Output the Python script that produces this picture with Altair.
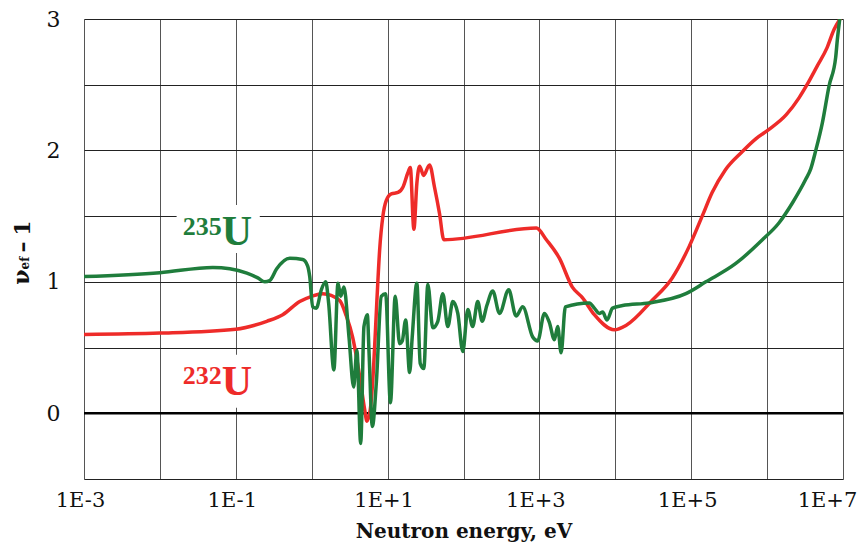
import altair as alt
import pandas as pd

# ---- data ----
u232_energy = [0.001, 0.01, 0.1, 0.256, 0.415, 0.695, 1.0, 1.40, 2.33, 2.86, 3.46, 4.29,
               4.98, 5.35, 5.92, 6.55, 7.23, 7.85, 8.67, 9.62, 11.2, 13.7, 15.9, 18.5,
               19.9, 22.2, 24.3, 26.4, 29.8, 35.7, 41.5, 48.3, 55.1, 914, 1236, 1832,
               2716, 3681, 5297, 9705, 13960, 30690, 56230, 94190, 139600, 188800,
               279900, 468800, 716100, 1.06e6, 1.778e6, 2.636e6, 3.357e6, 4.55e6,
               6.152e6, 7.621e6, 9.14e6]
u232_value = [0.60, 0.61, 0.64, 0.70, 0.75, 0.85, 0.89, 0.91, 0.86, 0.74, 0.58, 0.28,
              0.03, -0.06, 0.03, 0.36, 0.86, 1.24, 1.50, 1.62, 1.67, 1.68, 1.72, 1.83,
              1.87, 1.40, 1.75, 1.88, 1.81, 1.89, 1.72, 1.52, 1.32, 1.41, 1.32, 1.18,
              0.96, 0.88, 0.75, 0.635, 0.67, 0.86, 1.03, 1.27, 1.50, 1.68,
              1.85, 1.99, 2.09, 2.16, 2.27, 2.40, 2.50, 2.64,
              2.78, 2.92, 3.00]

u235_energy = [0.001, 0.01, 0.0498, 0.0834, 0.140, 0.195, 0.241, 0.280, 0.346, 0.514,
               0.762, 0.885, 0.942, 1.03, 1.15, 1.34, 1.53, 1.67, 1.96, 2.22, 2.41,
               2.66, 3.10, 3.57, 3.94, 4.42, 4.88, 5.41, 5.68, 6.30, 7.10, 8.26, 9.42,
               10.9, 12.6, 14.4, 15.6, 17.3, 19.5, 21.1, 24.3, 26.9, 30.0, 33.9, 39.4,
               45.9, 53.4, 62.1, 72.3, 84.1, 97.9, 114, 132, 154, 176, 203, 243, 298,
               394, 493, 603, 816, 951, 1164, 1355, 1575, 1742, 1932, 2198, 4550, 5297,
               6152, 6808, 7780, 9204, 12470, 27990, 85110, 156000, 387300, 866700,
               1.439e6, 2.153e6, 3.228e6, 3.758e6, 4.375e6, 5.346e6, 6.546e6, 8.017e6,
               8.414e6, 9.06e6]
u235_value = [1.04, 1.07, 1.11, 1.10, 1.066, 1.03, 1.00, 1.01, 1.10, 1.18,
              1.17, 1.12, 1.04, 0.81, 0.80, 0.94, 1.00, 0.84, 0.33, 0.99, 0.89,
              0.96, 0.58, 0.20, 0.48, -0.23, 0.66, 0.75, 0.48, -0.10, 0.23, 0.89, 0.91,
              0.08, 0.89, 0.53, 0.55, 0.71, 0.31, 0.58, 0.99, 0.38, 0.34, 0.98, 0.65,
              0.70, 0.91, 0.66, 0.85, 0.76, 0.47, 0.79, 0.66, 0.85, 0.70, 0.82, 0.93, 0.76,
              0.94, 0.74, 0.81, 0.58, 0.55, 0.76, 0.69, 0.56, 0.66, 0.46, 0.81, 0.84, 0.80,
              0.76, 0.77, 0.71, 0.80, 0.82, 0.84, 0.91, 1.00, 1.14, 1.32,
              1.45, 1.60, 1.78, 1.86, 2.00, 2.21, 2.49, 2.71,
              2.84, 3.00]

x_ticks = [1e-3, 1e-2, 1e-1, 1, 10, 100, 1e3, 1e4, 1e5, 1e6, 1e7]
y_ticks = [-0.5, 0, 0.5, 1, 1.5, 2, 2.5, 3]

label_isotope = ["235", "U", "232", "U"]
label_energy = [0.0655, 0.0655, 0.0655, 0.0655]
label_value = [1.357, 1.281, 0.224, 0.140]

box_e1 = [0.0166, 0.0166]
box_e2 = [0.207, 0.207]
box_v1 = [1.22, 0.042]
box_v2 = [1.585, 0.445]

GREEN = "#1f7d3c"
RED = "#ee2b29"

xsc = alt.Scale(type="log", domain=[1e-3, 1e7], nice=False)
ysc = alt.Scale(domain=[-0.5, 3], nice=False, zero=False)
xax = alt.Axis(values=x_ticks, grid=True, gridColor="#555", gridWidth=1,
               labelExpr="(abs(round(log(datum.value)/LN10)) % 2 == 1) ? ('1E' + (datum.value > 1 ? '+' : '') + round(log(datum.value)/LN10)) : ''",
               labelOffset={"condition": {"test": "datum.value > 1e6", "value": -16}, "value": -4},
               labelFlush=False, labelOverlap=False, labelFont="DejaVu Serif", labelFontSize=21,
               labelColor="#111", labelPadding=10, ticks=False, domain=False,
               title="Neutron energy, eV", titleFont="DejaVu Serif", titleFontSize=20,
               titleFontWeight="bold", titleColor="#111", titlePadding=11)
yax = alt.Axis(values=y_ticks, grid=True, gridColor="#222", gridWidth=1,
               labelExpr="datum.value % 1 == 0 ? format(datum.value, 'd') : ''",
               labelFont="DejaVu Serif", labelFontSize=22, labelColor="#111",
               labelPadding=24, labelOverlap=False, labelFlush=False, ticks=False, domain=False,
               title=None)

def X(f):
    return alt.X(f, type="quantitative", scale=xsc, axis=xax)

def Y(f):
    return alt.Y(f, type="quantitative", scale=ysc, axis=yax)

df232 = pd.DataFrame({"energy": u232_energy, "value": u232_value})
df235 = pd.DataFrame({"energy": u235_energy, "value": u235_value})
dfbox = pd.DataFrame({"energy": box_e1, "e2": box_e2, "value": box_v1, "v2": box_v2})
dflab = pd.DataFrame({"energy": label_energy, "value": label_value, "t": label_isotope,
                      "c": ["235", "235", "232", "232"]})

boxes = alt.Chart(dfbox).mark_rect(color="white").encode(
    x=X("energy"), x2="e2", y=Y("value"), y2="v2")

zero = alt.Chart(pd.DataFrame({"value": [0]})).mark_rule(color="black", strokeWidth=2.6).encode(
    y=Y("value"))

line232 = alt.Chart(df232).mark_line(color=RED, strokeWidth=3.5, interpolate="monotone",
                                     strokeJoin="round", strokeCap="round", clip=True).encode(
    x=X("energy"), y=Y("value"))
line235 = alt.Chart(df235).mark_line(color=GREEN, strokeWidth=3.5, interpolate="monotone",
                                     strokeJoin="round", strokeCap="round", clip=True).encode(
    x=X("energy"), y=Y("value"))

dfnum = dflab[dflab.t != "U"]
dfU = dflab[dflab.t == "U"]
colscale = alt.Scale(domain=["235", "232"], range=[GREEN, RED])
nums = alt.Chart(dfnum).mark_text(font="Liberation Serif", fontWeight="bold", fontSize=26,
                                  align="right", baseline="alphabetic").encode(
    x=X("energy"), y=Y("value"), text="t:N",
    color=alt.Color("c:N", scale=colscale, legend=None))
Us = alt.Chart(dfU).mark_text(font="Liberation Serif", fontWeight="bold", fontSize=42,
                              align="left", baseline="alphabetic").encode(
    x=X("energy"), y=Y("value"), text="t:N",
    color=alt.Color("c:N", scale=colscale, legend=None))

# y-axis title  ν_ef − 1 (rotated, built from small centred pieces)
def title_piece(txt, size, xpos, ypos):
    return alt.Chart(pd.DataFrame({"t": [txt]})).mark_text(
        font="DejaVu Serif", fontWeight="bold", fontSize=size, angle=270, align="center",
        baseline="middle", color="#111").encode(text="t:N", x=alt.value(xpos), y=alt.value(ypos))

ttl_nu = title_piece("ν", 22, -62, 258)
ttl_ef = title_piece("ef", 12, -59, 244)
ttl_dash = title_piece("–", 22, -61, 228)
ttl_one = title_piece("1", 22, -61, 209)

chart = alt.layer(boxes, zero, line232, line235, nums, Us,
                  ttl_nu, ttl_ef, ttl_dash, ttl_one).properties(
    width=759, height=460,
    autosize=alt.AutoSizeParams(type="none"),
    padding={"left": 76, "top": 11, "right": 15, "bottom": 67},
).configure_view(stroke="#8a8a8a", strokeWidth=1.5).configure(background="white")

chart.save("out.html", embed_options={"renderer": "svg", "actions": False})
